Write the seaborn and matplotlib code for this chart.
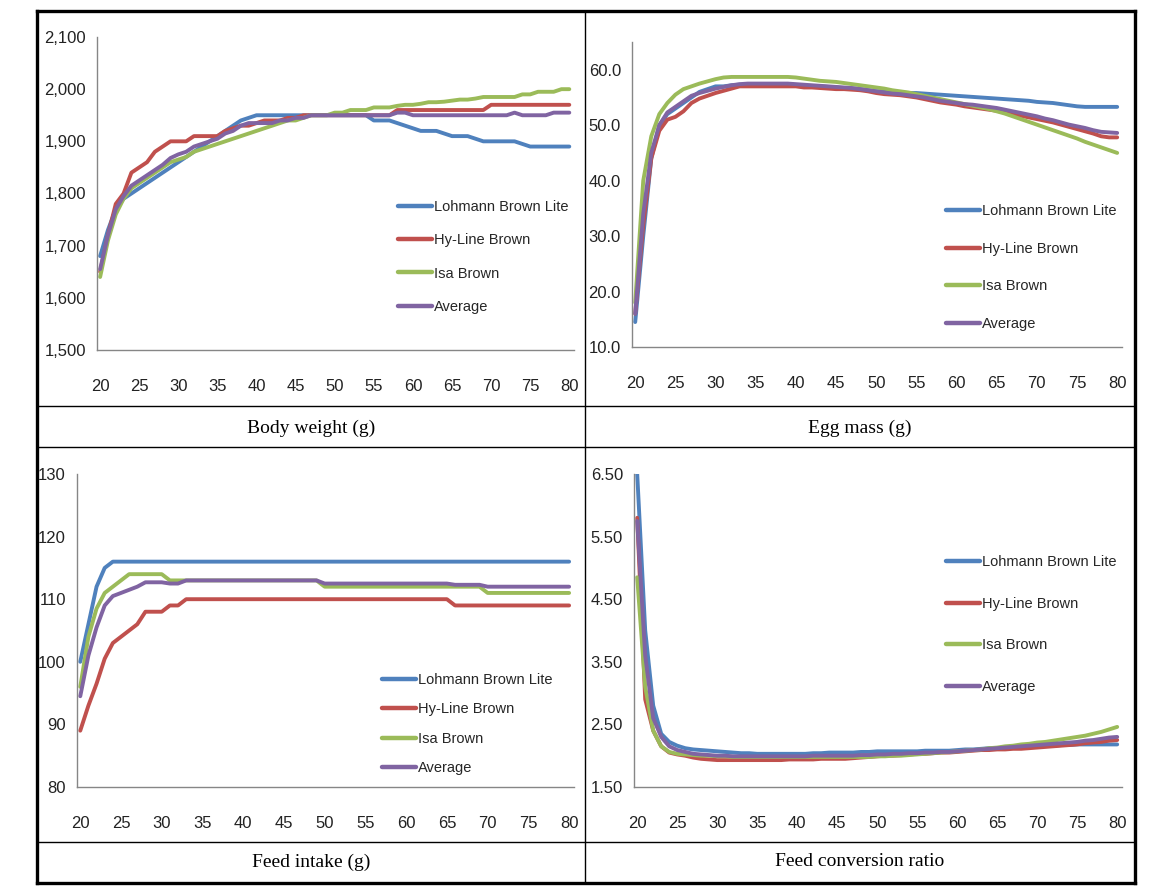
import numpy as np
import pandas as pd
import matplotlib
matplotlib.use("Agg")
import matplotlib.pyplot as plt
import seaborn as sns
from matplotlib.lines import Line2D
from matplotlib.ticker import MultipleLocator, FixedLocator, FuncFormatter

# ---------------- data ----------------
weeks = list(range(20, 81))
strains = ["Lohmann Brown Lite", "Hy-Line Brown", "Isa Brown", "Average"]
colors = ["#4F81BD", "#C0504D", "#9BBB59", "#8064A2"]

bw_lohmann = [1680, 1730, 1770, 1790, 1800, 1810, 1820, 1830, 1840, 1850,
              1860, 1870, 1880, 1890, 1900, 1910, 1920, 1930, 1940, 1945,
              1950, 1950, 1950, 1950, 1950, 1950, 1950, 1950, 1950, 1950,
              1950, 1950, 1950, 1950, 1950, 1940, 1940, 1940, 1935, 1930,
              1925, 1920, 1920, 1920, 1915, 1910, 1910, 1910, 1905, 1900,
              1900, 1900, 1900, 1900, 1895, 1890, 1890, 1890, 1890, 1890, 1890]
bw_hyline = [1650, 1720, 1780, 1800, 1840, 1850, 1860, 1880, 1890, 1900,
             1900, 1900, 1910, 1910, 1910, 1910, 1920, 1925, 1930, 1930,
             1935, 1940, 1940, 1940, 1945, 1945, 1950, 1950, 1950, 1950,
             1950, 1950, 1950, 1950, 1950, 1950, 1950, 1950, 1960, 1960,
             1960, 1960, 1960, 1960, 1960, 1960, 1960, 1960, 1960, 1960,
             1970, 1970, 1970, 1970, 1970, 1970, 1970, 1970, 1970, 1970, 1970]
bw_isa = [1640, 1710, 1760, 1790, 1810, 1820, 1830, 1840, 1850, 1860,
          1865, 1870, 1880, 1885, 1890, 1895, 1900, 1905, 1910, 1915,
          1920, 1925, 1930, 1935, 1940, 1940, 1945, 1950, 1950, 1950,
          1955, 1955, 1960, 1960, 1960, 1965, 1965, 1965, 1968, 1970,
          1970, 1972, 1975, 1975, 1976, 1978, 1980, 1980, 1982, 1985,
          1985, 1985, 1985, 1985, 1990, 1990, 1995, 1995, 1995, 2000, 2000]
bw_avg = [1655, 1720, 1770, 1795, 1815, 1825, 1835, 1845, 1855, 1868,
          1875, 1880, 1890, 1895, 1900, 1905, 1915, 1920, 1930, 1935,
          1935, 1935, 1935, 1940, 1940, 1945, 1945, 1950, 1950, 1950,
          1950, 1950, 1950, 1950, 1950, 1950, 1950, 1950, 1955, 1955,
          1950, 1950, 1950, 1950, 1950, 1950, 1950, 1950, 1950, 1950,
          1950, 1950, 1950, 1955, 1950, 1950, 1950, 1950, 1955, 1955, 1955]

em_lohmann = [14.5, 30, 44, 50, 52, 53, 54, 55, 56, 56.5,
              57, 57, 57.2, 57.3, 57.3, 57.3, 57.3, 57.3, 57.2, 57.2,
              57.2, 57.1, 57, 57, 56.9, 56.8, 56.7, 56.6, 56.5, 56.3,
              56.1, 56, 56, 55.9, 55.8, 55.8, 55.7, 55.6, 55.5, 55.4,
              55.3, 55.2, 55.1, 55, 54.9, 54.8, 54.7, 54.6, 54.5, 54.4,
              54.2, 54.1, 54, 53.8, 53.6, 53.4, 53.3, 53.3, 53.3, 53.3, 53.3]
em_hyline = [16, 32, 44, 49, 51, 51.5, 52.5, 54, 54.8, 55.3,
             55.8, 56.2, 56.6, 57, 57, 57, 57, 57, 57, 57,
             57, 56.8, 56.8, 56.7, 56.6, 56.5, 56.5, 56.4, 56.3, 56.1,
             55.8, 55.6, 55.5, 55.4, 55.2, 55, 54.7, 54.4, 54.1, 53.9,
             53.7, 53.4, 53.2, 53, 52.8, 52.6, 52.3, 52, 51.7, 51.4,
             51.1, 50.8, 50.5, 50.1, 49.7, 49.3, 48.9, 48.5, 48, 47.8, 47.8]
em_isa = [18, 40, 48, 52, 54, 55.5, 56.5, 57, 57.5, 57.9,
          58.3, 58.6, 58.7, 58.7, 58.7, 58.7, 58.7, 58.7, 58.7, 58.7,
          58.6, 58.4, 58.2, 58, 57.9, 57.8, 57.6, 57.4, 57.2, 57,
          56.8, 56.6, 56.3, 56.1, 55.9, 55.6, 55.3, 55, 54.7, 54.4,
          54.1, 53.8, 53.5, 53.2, 52.9, 52.5, 52.1, 51.6, 51.1, 50.6,
          50.1, 49.6, 49.1, 48.6, 48.1, 47.6, 47, 46.5, 46, 45.5, 45]
em_avg = [16, 34, 45, 50, 52.3, 53.3, 54.3, 55.3, 55.8, 56.2,
          56.6, 56.9, 57.2, 57.4, 57.5, 57.5, 57.5, 57.5, 57.5, 57.5,
          57.4, 57.3, 57.2, 57.1, 57, 56.9, 56.8, 56.7, 56.5, 56.3,
          56.1, 55.9, 55.7, 55.6, 55.4, 55.2, 55, 54.7, 54.4, 54.2,
          54, 53.8, 53.7, 53.5, 53.3, 53.1, 52.8, 52.5, 52.2, 51.9,
          51.6, 51.2, 50.9, 50.5, 50.1, 49.8, 49.5, 49.1, 48.8, 48.7, 48.6]

fi_lohmann = [100, 106, 112, 115, 116, 116, 116, 116, 116, 116,
              116, 116, 116, 116, 116, 116, 116, 116, 116, 116,
              116, 116, 116, 116, 116, 116, 116, 116, 116, 116,
              116, 116, 116, 116, 116, 116, 116, 116, 116, 116,
              116, 116, 116, 116, 116, 116, 116, 116, 116, 116,
              116, 116, 116, 116, 116, 116, 116, 116, 116, 116, 116]
fi_hyline = [89, 93, 96.5, 100.5, 103, 104, 105, 106, 108, 108,
             108, 109, 109, 110, 110, 110, 110, 110, 110, 110,
             110, 110, 110, 110, 110, 110, 110, 110, 110, 110,
             110, 110, 110, 110, 110, 110, 110, 110, 110, 110,
             110, 110, 110, 110, 110, 110, 109, 109, 109, 109,
             109, 109, 109, 109, 109, 109, 109, 109, 109, 109, 109]
fi_isa = [96, 104, 108.5, 111, 112, 113, 114, 114, 114, 114,
          114, 113, 113, 113, 113, 113, 113, 113, 113, 113,
          113, 113, 113, 113, 113, 113, 113, 113, 113, 113,
          112, 112, 112, 112, 112, 112, 112, 112, 112, 112,
          112, 112, 112, 112, 112, 112, 112, 112, 112, 112,
          111, 111, 111, 111, 111, 111, 111, 111, 111, 111, 111]
fi_avg = [94.5, 101, 105.5, 109, 110.5, 111, 111.5, 112, 112.7, 112.7,
          112.7, 112.5, 112.5, 113, 113, 113, 113, 113, 113, 113,
          113, 113, 113, 113, 113, 113, 113, 113, 113, 113,
          112.5, 112.5, 112.5, 112.5, 112.5, 112.5, 112.5, 112.5, 112.5, 112.5,
          112.5, 112.5, 112.5, 112.5, 112.5, 112.5, 112.3, 112.3, 112.3, 112.3,
          112, 112, 112, 112, 112, 112, 112, 112, 112, 112, 112]

fcr_lohmann = [6.5, 4.0, 2.8, 2.35, 2.22, 2.16, 2.12, 2.1, 2.09, 2.08,
               2.07, 2.06, 2.05, 2.04, 2.04, 2.03, 2.03, 2.03, 2.03, 2.03,
               2.03, 2.03, 2.04, 2.04, 2.05, 2.05, 2.05, 2.05, 2.06, 2.06,
               2.07, 2.07, 2.07, 2.07, 2.07, 2.07, 2.08, 2.08, 2.08, 2.08,
               2.09, 2.1, 2.1, 2.11, 2.12, 2.12, 2.13, 2.14, 2.14, 2.15,
               2.15, 2.16, 2.16, 2.17, 2.17, 2.18, 2.18, 2.18, 2.18, 2.18, 2.18]
fcr_hyline = [5.8, 2.9, 2.4, 2.15, 2.05, 2.02, 2.0, 1.97, 1.95, 1.94,
              1.93, 1.93, 1.93, 1.93, 1.93, 1.93, 1.93, 1.93, 1.93, 1.94,
              1.94, 1.94, 1.94, 1.95, 1.95, 1.95, 1.95, 1.96, 1.97, 1.98,
              1.99, 2.0, 2.0, 2.01, 2.02, 2.03, 2.03, 2.04, 2.05, 2.05,
              2.06, 2.07, 2.08, 2.09, 2.09, 2.1, 2.1, 2.11, 2.11, 2.12,
              2.13, 2.14, 2.15, 2.16, 2.17, 2.18, 2.2, 2.21, 2.22, 2.24, 2.25]
fcr_isa = [4.85, 3.1, 2.4, 2.15, 2.06, 2.03, 2.02, 2.01, 2.0, 2.0,
           1.99, 1.99, 1.98, 1.98, 1.98, 1.98, 1.98, 1.98, 1.98, 1.98,
           1.98, 1.98, 1.98, 1.98, 1.98, 1.98, 1.98, 1.98, 1.98, 1.98,
           1.99, 1.99, 2.0, 2.0, 2.01, 2.02, 2.03, 2.04, 2.05, 2.06,
           2.07, 2.08, 2.09, 2.1, 2.12, 2.13, 2.15, 2.16, 2.18, 2.19,
           2.21, 2.22, 2.24, 2.26, 2.28, 2.3, 2.32, 2.35, 2.38, 2.42, 2.46]
fcr_avg = [5.75, 3.6, 2.6, 2.3, 2.15, 2.09, 2.06, 2.03, 2.02, 2.01,
           2.0, 2.0, 1.99, 1.99, 1.99, 1.99, 1.99, 1.99, 1.99, 1.99,
           1.99, 1.99, 2.0, 2.0, 2.0, 2.0, 2.0, 2.0, 2.01, 2.01,
           2.02, 2.02, 2.03, 2.03, 2.04, 2.04, 2.05, 2.05, 2.06, 2.06,
           2.07, 2.08, 2.09, 2.1, 2.11, 2.12, 2.13, 2.14, 2.15, 2.16,
           2.17, 2.18, 2.19, 2.2, 2.21, 2.22, 2.24, 2.25, 2.27, 2.29, 2.3]

captions = ["Body weight (g)", "Egg mass (g)", "Feed intake (g)", "Feed conversion ratio"]

# ---------------- style ----------------
sns.set_style("white")
plt.rcParams['font.family'] = ['Liberation Sans Narrow', 'Liberation Sans', 'DejaVu Sans']

W, H = 1152, 889
fig = plt.figure(figsize=(W / 100, H / 100), dpi=100)
fig.patch.set_facecolor("white")


def fx(x):
    return x / W


def fy(y):
    return 1 - y / H


def add_ax(l, t, r, b):
    return fig.add_axes([fx(l), fy(b), (r - l) / W, (b - t) / H])


panels = [
    dict(series=[bw_lohmann, bw_hyline, bw_isa, bw_avg], rect=(97, 37, 574, 350),
         ylim=(1500, 2100), ystep=100, fmt=lambda v, p: f"{v:,.0f}",
         leg=(398, 200), lspace=1.32),
    dict(series=[em_lohmann, em_hyline, em_isa, em_avg], rect=(632, 42, 1122, 347),
         ylim=(10, 65), ystep=10, fmt=lambda v, p: f"{v:.1f}",
         leg=(946, 204), lspace=1.62),
    dict(series=[fi_lohmann, fi_hyline, fi_isa, fi_avg], rect=(77, 474, 574, 787),
         ylim=(80, 130), ystep=10, fmt=lambda v, p: f"{v:.0f}",
         leg=(382, 673), lspace=1.05),
    dict(series=[fcr_lohmann, fcr_hyline, fcr_isa, fcr_avg], rect=(634, 474, 1122, 787),
         ylim=(1.5, 6.5), ystep=1.0, fmt=lambda v, p: f"{v:.2f}",
         leg=(946, 555), lspace=1.9),
]

gray = "#868686"
palette = dict(zip(strains, colors))

for p in panels:
    ax = add_ax(*p["rect"])
    frames = []
    for name, vals in zip(strains, p["series"]):
        frames.append(pd.DataFrame({"Week": weeks, "Value": vals, "Strain": name}))
    df = pd.concat(frames, ignore_index=True)
    sns.lineplot(data=df, x="Week", y="Value", hue="Strain", hue_order=strains,
                 palette=palette, linewidth=2.8, ax=ax, legend=True)
    handles, labels = ax.get_legend_handles_labels()
    ax.get_legend().remove()
    for h in handles:
        h.set_linewidth(3.2)
    ax.legend(handles, labels, loc="upper left",
              bbox_to_anchor=(fx(p["leg"][0]), fy(p["leg"][1])),
              bbox_transform=fig.transFigure, frameon=False,
              fontsize=10.5, handlelength=2.35, handletextpad=0.15,
              labelspacing=p["lspace"], borderpad=0, borderaxespad=0)

    ax.set_xlim(19.6, 80.6)
    ax.set_ylim(*p["ylim"])
    lo, hi = p["ylim"]
    n = int(round((hi - lo) / p["ystep"]))
    ax.yaxis.set_major_locator(FixedLocator([lo + i * p["ystep"] for i in range(n + 1)]))
    ax.yaxis.set_major_formatter(FuncFormatter(p["fmt"]))
    ax.xaxis.set_major_locator(MultipleLocator(5))
    ax.xaxis.set_minor_locator(MultipleLocator(1))
    ax.set_xlabel("")
    ax.set_ylabel("")
    for s in ["top", "right"]:
        ax.spines[s].set_visible(False)
    for s in ["left", "bottom"]:
        ax.spines[s].set_color(gray)
        ax.spines[s].set_linewidth(1.0)
    ax.tick_params(axis="x", which="both", direction="out", length=4, width=0.9,
                   color=gray, labelsize=12, pad=17, labelcolor="#222222")
    ax.tick_params(axis="y", which="major", direction="out", length=4, width=0.9,
                   color=gray, labelsize=12, pad=4, labelcolor="#222222")
    ax.set_facecolor("white")
    ax.grid(False)

# ---------------- table frame ----------------
L, R, T, B = 37, 1135, 11, 883
thick = 2.4
thin = 1.0


def hline(y, lw):
    fig.add_artist(Line2D([fx(L), fx(R)], [fy(y), fy(y)], color="black", lw=lw,
                          transform=fig.transFigure, solid_capstyle="projecting"))


def vline(x, lw, y0=T, y1=B):
    fig.add_artist(Line2D([fx(x), fx(x)], [fy(y0), fy(y1)], color="black", lw=lw,
                          transform=fig.transFigure, solid_capstyle="projecting"))


hline(T, thick)
hline(B, thick)
vline(L, thick)
vline(R, thick)
hline(406, thin)
hline(447, thin)
hline(842, thin)
vline(585, thin)

cap_pos = [(311, 428), (860, 428), (311, 862), (860, 862)]
for txt, (x, y) in zip(captions, cap_pos):
    fig.text(fx(x), fy(y), txt, ha="center", va="center", fontsize=14,
             family=["Liberation Serif", "DejaVu Serif"], color="black")

fig.savefig("out.png", dpi=100, facecolor="white")
